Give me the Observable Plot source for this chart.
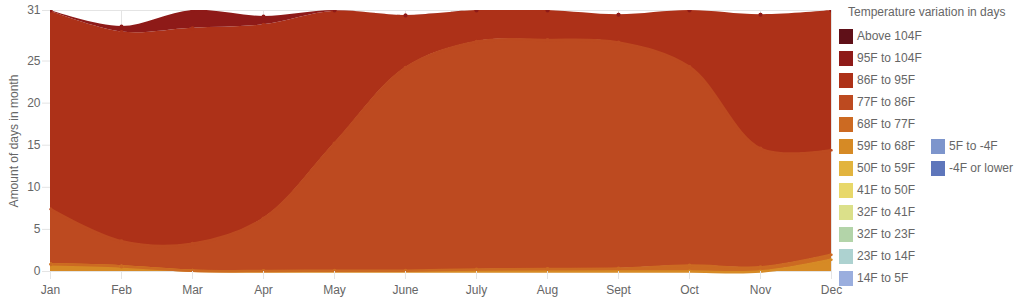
<!DOCTYPE html>
<html>
<head>
<meta charset="utf-8">
<script src="https://cdn.jsdelivr.net/npm/d3@7"></script>
<script src="https://cdn.jsdelivr.net/npm/@observablehq/plot@0.6"></script>
<style>
  body { margin: 0; background: #fff; font-family: "Liberation Sans", Arial, sans-serif; }
  #wrap { position: relative; width: 1024px; height: 300px; overflow: hidden; }
  #wrap svg { position: absolute; left: 0; top: 0; }
  .lg-title { position: absolute; left: 848px; top: 5px; font-size: 12px; line-height: 14px; color: #666; white-space: nowrap; }
  .lg-item { position: absolute; height: 15px; font-size: 12px; line-height: 15px; color: #666; white-space: nowrap; }
  .lg-sw { display: inline-block; width: 14px; height: 15px; vertical-align: top; margin-right: 4px; }
</style>
</head>
<body>
<div id="wrap"></div>
<script>
// ---- data ----
const months = ["Jan", "Feb", "Mar", "Apr", "May", "June", "July", "Aug", "Sept", "Oct", "Nov", "Dec"];
const yTicks = [0, 5, 10, 15, 20, 25, 31];

// stacked series, bottom to top
const stackNames = ["59F to 68F", "68F to 77F", "77F to 86F", "86F to 95F", "95F to 104F", "Above 104F"];
const days59to68  = [0.85, 0.6, 0.1, 0, 0, 0, 0, 0, 0, 0, 0, 1.4];
const days68to77  = [0, 0, 0, 0.05, 0.1, 0.1, 0.25, 0.3, 0.35, 0.7, 0.5, 0.6];
const days77to86  = [6.55, 3.0, 3.2, 6.25, 15.1, 24.1, 27.05, 27.2, 26.85, 23.6, 14.1, 12.4];
const days86to95  = [23.5, 24.85, 25.6, 23.0, 15.7, 6.2, 3.7, 3.5, 3.3, 6.7, 15.9, 16.6];
const days95to104 = [0.1, 0.65, 2.1, 1.0, 0.1, 0, 0, 0, 0, 0, 0, 0];
const daysAbove104 = [0, 0, 0, 0, 0, 0, 0, 0, 0, 0, 0, 0];
const stackValues = [days59to68, days68to77, days77to86, days86to95, days95to104, daysAbove104];

// legend
const legendNames = ["Above 104F", "95F to 104F", "86F to 95F", "77F to 86F", "68F to 77F", "59F to 68F",
  "50F to 59F", "41F to 50F", "32F to 41F", "32F to 23F", "23F to 14F", "14F to 5F", "5F to -4F", "-4F or lower"];
const legendColors = ["#5f1018", "#8e1a18", "#ad3118", "#bd4a20", "#cc6a22", "#d68a25",
  "#e2b43e", "#e8d86a", "#dbe08a", "#b3d4a9", "#add2d0", "#9aaede", "#7d95cc", "#5e76bb"];

// build stacked rows
const rows = [];
const base = months.map(() => 0);
stackNames.forEach((name, si) => {
  months.forEach((m, mi) => {
    const y1 = base[mi];
    const y2 = y1 + stackValues[si][mi];
    base[mi] = y2;
    rows.push({month: m, series: name, y1, y2});
  });
});
const lineRows = rows.filter(d => ["59F to 68F", "68F to 77F", "77F to 86F"].includes(d.series));
const dotRows = rows.filter(d => d.series !== "Above 104F");

const chart = Plot.plot({
  width: 1024,
  height: 300,
  marginLeft: 50,
  marginRight: 193,
  marginTop: 10,
  marginBottom: 29,
  style: {fontFamily: '"Liberation Sans", Arial, sans-serif', fontSize: "12px", color: "#666", background: "transparent", overflow: "visible"},
  x: {type: "point", domain: months, padding: 0},
  y: {domain: [0, 31]},
  color: {domain: legendNames, range: legendColors},
  marks: [
    Plot.gridX(months, {stroke: "#e4e4e4", strokeOpacity: 1}),
    Plot.gridY(yTicks, {stroke: "#e4e4e4", strokeOpacity: 1}),
    Plot.areaY(rows, {x: "month", y1: "y1", y2: "y2", fill: "series", z: "series", curve: "catmull-rom", clip: true}),
    Plot.lineY(lineRows, {x: "month", y: "y2", stroke: "series", z: "series", strokeWidth: 2.5, curve: "catmull-rom"}),
    Plot.dot(dotRows, {x: "month", y: "y2", fill: "series", r: 2, clip: true}),
    Plot.axisX({tickSize: 8, tickPadding: 6, stroke: "#e4e4e4", fill: "#666", label: null, fontSize: 12}),
    Plot.axisY({ticks: yTicks, tickSize: 8, tickPadding: 2, stroke: "#e4e4e4", fill: "#666", fontSize: 12,
      label: "Amount of days in month", labelAnchor: "center", labelArrow: "none", labelOffset: 41})
  ]
});

const wrap = document.getElementById("wrap");
wrap.appendChild(chart);

// legend (HTML)
const t = document.createElement("div");
t.className = "lg-title";
t.textContent = "Temperature variation in days";
wrap.appendChild(t);
legendNames.forEach((name, i) => {
  const col = i < 12 ? 0 : 1;
  const row = i < 12 ? i : i - 7;
  const item = document.createElement("div");
  item.className = "lg-item";
  item.style.left = (col === 0 ? 839 : 931) + "px";
  item.style.top = (29 + 22 * row) + "px";
  const sw = document.createElement("span");
  sw.className = "lg-sw";
  sw.style.background = legendColors[i];
  item.appendChild(sw);
  item.appendChild(document.createTextNode(name));
  wrap.appendChild(item);
});
</script>
</body>
</html>
